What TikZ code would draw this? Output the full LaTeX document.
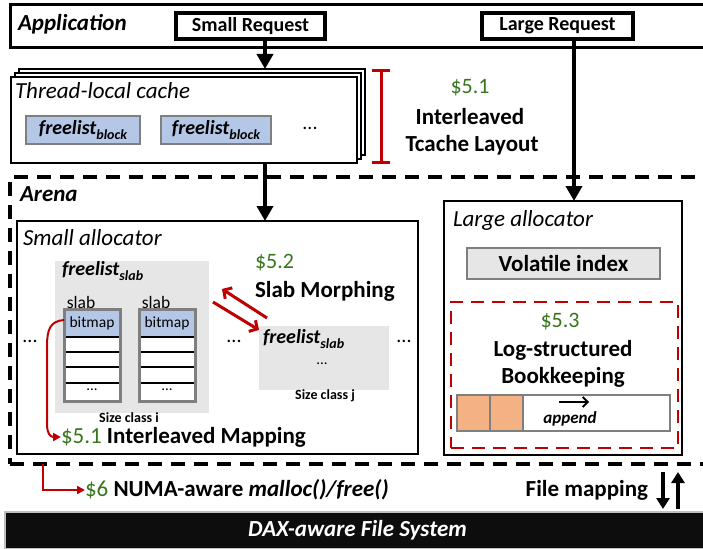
\documentclass[tikz,border=0pt]{standalone}
\usepackage{fontspec}
\setmainfont{Carlito}
\usetikzlibrary{arrows.meta}

\definecolor{secgreen}{RGB}{56,118,29}
\definecolor{darkred}{RGB}{192,0,0}
\definecolor{listblue}{RGB}{180,199,231}
\definecolor{panelgray}{RGB}{231,230,230}
\definecolor{edgegray}{RGB}{127,127,127}
\definecolor{logorange}{RGB}{244,177,131}

\newcommand\fs[1]{\fontsize{#1}{#1}\selectfont}
\newcommand\lowidx[1]{\raisebox{-0.5ex}{\fs{14}#1}}

\tikzset{
  rect/.style={draw, rectangle, inner sep=0pt, outer sep=0pt},
  txt/.style={inner sep=0pt, outer sep=0pt},
  arr/.style={line width=4pt, -{Triangle[length=15pt,width=16pt]}},
  redarr/.style={darkred, line width=2pt, -{Triangle[length=8pt,width=8pt]}},
  morph/.style={darkred, line width=3pt, -{Straight Barb[length=6pt,width=13pt]}},
  fmarr/.style={line width=4pt, -{Triangle[length=11pt,width=13pt]}},
  sec/.style={txt, text=secgreen, font=\fs{22}},
  head/.style={txt, font=\fs{23}\bfseries},
  freebox/.style={rect, fill=listblue, draw=edgegray, line width=1.5pt},
}

\begin{document}
\begin{tikzpicture}[x=1pt, y=-1pt]
\useasboundingbox (0,0) rectangle (703,548);

% ---------- application layer ----------
\node[rect, line width=3pt, minimum width=705pt, minimum height=43pt] (app) at (362.5,26.5) {};
\node[txt, anchor=west, font=\fs{23}\bfseries\itshape] (applbl) at (18,24) {Application};
\node[rect, fill=white, line width=3.5pt, minimum width=149pt, minimum height=26pt,
      font=\fs{20}\bfseries] (smallreq) at (250.5,26) {Small Request};
\node[rect, fill=white, line width=3.5pt, minimum width=151pt, minimum height=26pt,
      font=\fs{20}\bfseries] (largereq) at (557.5,26) {Large Request};

% ---------- thread-local cache (stacked) ----------
\node[rect, fill=white, line width=2.5pt, minimum width=346pt, minimum height=86pt] (cacheback) at (192,112) {};
\node[rect, fill=white, line width=2.5pt, minimum width=346pt, minimum height=86pt] (cachemid) at (188,116) {};
\node[rect, fill=white, line width=2.5pt, minimum width=346pt, minimum height=86pt] (cachefront) at (184,120) {};
\node[txt, anchor=west, font=\fs{23}\itshape] (cachelbl) at (15,91) {Thread-local cache};
\node[freebox, minimum width=114pt, minimum height=28pt, font=\fs{20}\bfseries\itshape] (fb1) at (83,130) {freelist\lowidx{block}};
\node[freebox, minimum width=110pt, minimum height=28pt, font=\fs{20}\bfseries\itshape] (fb2) at (216,130) {freelist\lowidx{block}};
\node[txt, font=\fs{20}] (fbdots) at (310,128) {...};

% bracket marking the tcache layout
\draw[darkred, line width=3pt] (372,71) -- (390,71) (381,71) -- (381,163) (372,163) -- (390,163);
\node[sec] (s51) at (470,88) {\$5.1};
\node[head] (tc1) at (470,117) {Interleaved};
\node[head] (tc2) at (472,145) {Tcache Layout};

% ---------- arena ----------
\node[rect, dashed, dash pattern=on 14pt off 9pt, line width=3.5pt,
      minimum width=705pt, minimum height=287pt] (arena) at (362.5,320.5) {};
\node[txt, anchor=west, font=\fs{23}\bfseries\itshape] (arenalbl) at (20,194) {Arena};

% small allocator
\node[rect, fill=white, line width=2pt, minimum width=401pt, minimum height=233pt] (smallalloc) at (217.5,337.5) {};
\node[txt, anchor=west, font=\fs{23}\itshape] (salbl) at (23,238) {Small allocator};

% size class i
\node[rect, draw=none, fill=panelgray, minimum width=154pt, minimum height=152pt] (grayi) at (132,337) {};
\node[txt, anchor=west, font=\fs{20}\bfseries\itshape] (fli) at (62,271) {freelist\lowidx{slab}};
\node[txt, font=\fs{17.5}] (slab1lbl) at (81,302) {slab};
\node[txt, font=\fs{17.5}] (slab2lbl) at (156,302) {slab};

% slab columns
\foreach \cx/\nm in {64/slabA, 139/slabB} {
  \fill[white] (\cx,309) rectangle (\cx+56,401);
  \fill[listblue] (\cx,309) rectangle (\cx+56,337);
  \foreach \yy in {337,352,367,383}
    \draw[line width=1.5pt] (\cx,\yy) -- (\cx+56,\yy);
  \node[txt, font=\fs{15.5}] at (\cx+28,323) {bitmap};
  \node[txt, font=\fs{15}] at (\cx+28,390) {...};
  \node[rect, draw=edgegray, line width=3pt, minimum width=56pt, minimum height=92pt] (\nm) at (\cx+28,355) {};
}
\node[txt, font=\fs{14}\bfseries] (sci) at (129,418) {Size class i};

% size class j
\node[rect, draw=none, fill=panelgray, minimum width=130pt, minimum height=64pt] (grayj) at (324,358) {};
\node[txt, anchor=west, font=\fs{20}\bfseries\itshape] (flj) at (263,339) {freelist\lowidx{slab}};
\node[txt, font=\fs{15}] (jdots) at (322,364) {...};
\node[txt, font=\fs{14}\bfseries] (scj) at (325,396) {Size class j};

\node[txt, font=\fs{20}] (dotsL) at (30,341) {...};
\node[txt, font=\fs{20}] (dotsM) at (234,341) {...};
\node[txt, font=\fs{20}] (dotsR) at (404,341) {...};

% slab morphing
\node[sec, anchor=west] (s52) at (255,263) {\$5.2};
\node[head, anchor=west] (smlbl) at (255,291) {Slab Morphing};
\coordinate (mA1) at (267,318);
\coordinate (mA2) at (222,289);
\coordinate (mB1) at (213,302);
\coordinate (mB2) at (259,330);
\draw[morph] (mA1) -- (mA2);
\draw[morph] (mB1) -- (mB2);

% interleaved mapping
\node[txt, anchor=west, font=\fs{23}] (imap) at (61,437) {\textcolor{secgreen}{\$5.1} \textbf{Interleaved Mapping}};
\draw[redarr] (slabA.west |- 0,320) .. controls (50,321) and (47,330) .. (47,346)
  -- (47,424) .. controls (47,433) and (50,437) .. (imap.west);

% large allocator
\node[rect, fill=white, line width=2pt, minimum width=238pt, minimum height=254pt] (largealloc) at (563,328) {};
\node[txt, anchor=west, font=\fs{23}\itshape] (lalbl) at (453,220) {Large allocator};
\node[rect, fill=panelgray, draw=edgegray, line width=2.5pt, minimum width=193pt, minimum height=31pt,
      font=\fs{23}\bfseries] (volidx) at (563.5,263.5) {Volatile index};
\node[rect, draw=darkred, dashed, dash pattern=on 13pt off 8pt, line width=2.5pt,
      minimum width=227pt, minimum height=146pt] (logbox) at (564.5,375) {};
\node[sec] (s53) at (560,322) {\$5.3};
\node[head] (lg1) at (563,350) {Log-structured};
\node[head] (lg2) at (563,377) {Bookkeeping};
\node[rect, fill=white, draw=edgegray, line width=2.5pt, minimum width=213pt, minimum height=36pt] (logbar) at (563.5,413) {};
\node[rect, fill=logorange, draw=edgegray, line width=2pt, minimum width=33pt, minimum height=36pt] (lg1sq) at (473.5,413) {};
\node[rect, fill=logorange, draw=edgegray, line width=2pt, minimum width=33pt, minimum height=36pt] (lg2sq) at (506.5,413) {};
\coordinate (ap1) at (559,402);
\coordinate (ap2) at (589,402);
\draw[line width=1.8pt, -{Straight Barb[length=5pt,width=10pt]}] (ap1) -- (ap2);
\node[txt, font=\fs{17}\bfseries\itshape] (applbl2) at (570,419) {append};

% ---------- request paths ----------
\coordinate (sx) at (265,0);
\coordinate (lx) at (574,0);
\draw[arr] (smallreq.south -| sx) -- (cacheback.north -| sx);
\draw[arr] (cachefront.south -| sx) -- (smallalloc.north -| sx);
\draw[arr] (largereq.south -| lx) -- (largealloc.north -| lx);

% ---------- bottom ----------
\node[txt, anchor=west, font=\fs{23}] (numa) at (85,490)
  {\textcolor{secgreen}{\$6} \textbf{NUMA-aware \textit{malloc()/free()}}};
\coordinate (nx) at (43,0);
\draw[darkred, line width=2pt, -{Triangle[length=8pt,width=8pt]}] (arena.south -| nx) |- (numa.west);

\node[rect, fill=black!95, draw=black!25, line width=1.5pt, minimum width=705pt, minimum height=37pt,
      font=\fs{23}\bfseries\itshape, text=white] (dax) at (357.5,530.5) {DAX-aware File System};
\node[txt, anchor=east, font=\fs{23}\bfseries] (fmap) at (648,490) {File mapping};
\coordinate (fd) at (663,0);
\coordinate (fu) at (678,0);
\draw[fmarr] (fd |- 0,472) -- (fd |- 0,509);
\draw[fmarr] (fu |- 0,509) -- (fu |- 0,472);
\end{tikzpicture}
\end{document}
